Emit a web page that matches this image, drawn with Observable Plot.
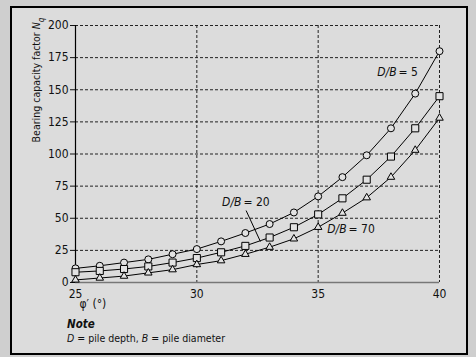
<!DOCTYPE html>
<html><head><meta charset="utf-8">
<script src="https://cdn.jsdelivr.net/npm/d3@7"></script>
<script src="https://cdn.jsdelivr.net/npm/@observablehq/plot@0.6"></script>
<style>
body{margin:0;background:#cfcfcf;}
#wrap{position:relative;width:476px;height:357px;overflow:hidden;font-family:"DejaVu Sans Condensed","Liberation Sans Narrow",sans-serif;font-stretch:condensed;color:#111;}
.box{position:absolute;left:10px;top:6px;width:454px;height:345px;border:2px solid #000;background:#dcdcdc;}
#chart{position:absolute;left:0;top:0;}
#chart svg{font-stretch:condensed;}
.ylab{position:absolute;left:38px;top:80px;transform:translate(-50%,-50%) rotate(-90deg);white-space:nowrap;font-size:10.5px;}
.note{position:absolute;left:67px;top:317px;font-size:11.5px;font-weight:bold;font-style:italic;}
.def{position:absolute;left:67px;top:332px;font-size:10.5px;white-space:nowrap;}
</style></head>
<body><div id="wrap"><div class="box"></div><div id="chart"></div>
<div class="ylab">Bearing capacity factor <i>N</i><sub style="font-size:8px;font-style:italic">q</sub></div>
<div class="note">Note</div>
<div class="def"><i>D</i> = pile depth, <i>B</i> = pile diameter</div>
</div>
<script>
const phi = [25,26,27,28,29,30,31,32,33,34,35,36,37,38,39,40];
const nq5  = [11,13,15.5,18,22,26,32,38.5,45.5,54.5,67,82,99,120,147,180];
const nq20 = [8,9,10.5,12.5,15.5,19,23.5,28.5,35,43,53,65.5,80,98,120,145];
const nq70 = [2,3.5,5,7.5,10,14,17,22,27.5,34,43,54,66,82,103,128];
const seriesNames = ["5","20","70"];
const seriesValues = [nq5, nq20, nq70];
const symbols = ["circle","square","triangle"];
const symbolR = [3.5,4,2.8];
const xTicks = [25,30,35,40];
const yTicks = [0,25,50,75,100,125,150,175,200];
const gridXTicks = [30,35,40];
const labels = [
  {name:"5", x:38.23, y:163.4},
  {name:"20", x:31.84, y:62.3},
  {name:"70", x:36.17, y:41.2}
];
const leader = [{x1:32.03, y1:56.0, x2:32.62, y2:31.9}];

const rows = [];
seriesNames.forEach((s,i)=>phi.forEach((p,j)=>rows.push({s, phi:p, nq:seriesValues[i][j]})));

const FONT = '"DejaVu Sans Condensed","Liberation Sans Narrow",sans-serif';
const marks = [
  Plot.gridY(yTicks.slice(1), {stroke:"#222", strokeOpacity:1, strokeDasharray:"3,2"}),
  Plot.gridX(gridXTicks, {stroke:"#222", strokeOpacity:1, strokeDasharray:"3,2"}),
  Plot.ruleY([0], {stroke:"#777", strokeWidth:1.5}),
  Plot.ruleX([25], {stroke:"#000", strokeWidth:1.2}),
  Plot.axisY({ticks:yTicks, tickSize:5, tickPadding:2, label:null, fontSize:12}),
  Plot.axisX({ticks:xTicks, tickSize:0, tickPadding:7, label:null, fontSize:12}),
  Plot.text(["φ′ (°)"], {frameAnchor:"bottom-left", dy:25, dx:4, textAnchor:"start", fontSize:12}),
  Plot.link(leader, {x1:"x1", y1:"y1", x2:"x2", y2:"y2", stroke:"#000", strokeWidth:1}),
];
seriesNames.forEach((s,i)=>{
  const d = rows.filter(r=>r.s===s);
  marks.push(Plot.line(d, {x:"phi", y:"nq", stroke:"#000", strokeWidth:1}));
  marks.push(Plot.dot(d, {x:"phi", y:"nq", symbol:()=>symbols[i], r:symbolR[i], stroke:"#000", strokeWidth:1, fill:"#e2e2e2"}));
});
marks.push(Plot.text(labels, {x:"x", y:"y", text:()=>"D/B", textAnchor:"end", fontStyle:"italic", fontSize:12}));
marks.push(Plot.text(labels, {x:"x", y:"y", text:d=>"= "+d.name, textAnchor:"start", dx:2, fontSize:12}));

const chart = Plot.plot({
  width:476, height:315,
  marginLeft:75, marginRight:37, marginTop:25, marginBottom:33,
  x:{domain:[25,40]},
  y:{domain:[0,200]},
  style:{background:"transparent", fontFamily:FONT, fontSize:"12px", color:"#111"},
  marks
});
document.getElementById("chart").appendChild(chart);
</script>
</body></html>
